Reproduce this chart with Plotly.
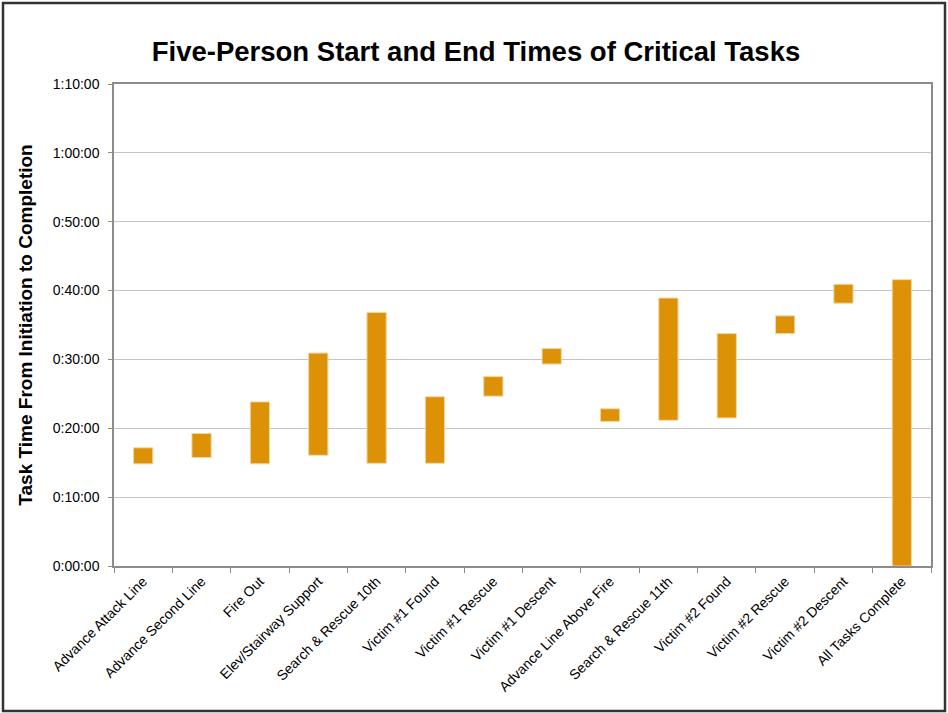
import plotly.graph_objects as go

tasks = ["Advance Attack Line", "Advance Second Line", "Fire Out", "Elev/Stairway Support",
         "Search & Rescue 10th", "Victim #1 Found", "Victim #1 Rescue", "Victim #1 Descent",
         "Advance Line Above Fire", "Search & Rescue 11th", "Victim #2 Found", "Victim #2 Rescue",
         "Victim #2 Descent", "All Tasks Complete"]
start_times = ["0:14:50", "0:15:45", "0:14:50", "0:16:05", "0:14:55", "0:14:55", "0:24:40",
               "0:29:20", "0:21:00", "0:21:10", "0:21:30", "0:33:45", "0:38:10", "0:00:00"]
end_times = ["0:17:10", "0:19:15", "0:23:50", "0:30:55", "0:36:50", "0:24:35", "0:27:30",
             "0:31:35", "0:22:50", "0:38:55", "0:33:45", "0:36:20", "0:40:55", "0:41:35"]
tick_minutes = [0, 10, 20, 30, 40, 50, 60, 70]
tick_labels = ["0:00:00", "0:10:00", "0:20:00", "0:30:00", "0:40:00", "0:50:00", "1:00:00", "1:10:00"]


def to_min(s):
    h, m, sec = (int(p) for p in s.split(":"))
    return h * 60 + m + sec / 60


starts = [to_min(s) for s in start_times]
ends = [to_min(e) for e in end_times]
durations = [e - s for s, e in zip(starts, ends)]

fig = go.Figure(go.Bar(
    x=tasks, y=durations, base=starts, width=0.33,
    marker=dict(color="#DC9106", line=dict(color="#F2D7A6", width=1)),
    hoverinfo="skip",
))

W, H = 948, 713
L, R, T, B = 114, 17, 84, 147
pw, ph = W - L - R, H - T - B

fig.update_layout(
    width=W, height=H,
    margin=dict(l=L, r=R, t=T, b=B),
    paper_bgcolor="white", plot_bgcolor="white",
    font=dict(family="Liberation Sans, Arial, sans-serif", color="black"),
    showlegend=False,
    title=dict(text="<b>Five-Person Start and End Times of Critical Tasks</b>",
               font=dict(size=27.5, color="black"), x=476 / W, xanchor="center",
               xref="container", yref="container", y=1 - 51 / H, yanchor="middle"),
    shapes=[dict(type="rect", xref="paper", yref="paper",
                 x0=(3 - L) / pw, x1=(945 - L) / pw,
                 y0=(H - B - 711) / ph, y1=(H - B - 3) / ph,
                 line=dict(color="#333333", width=2.5), layer="above")],
)

fig.update_xaxes(
    type="category", tickangle=-45, tickfont=dict(size=14, color="black"),
    showline=True, linecolor="#8C8C8C", linewidth=1.5, mirror=True,
    ticks="outside", tickson="boundaries", ticklen=5, tickcolor="#8C8C8C",
    showgrid=False,
)
fig.update_yaxes(
    range=[0, 70], tickvals=tick_minutes, ticktext=tick_labels,
    tickfont=dict(size=14, color="black"), ticklabelstandoff=6,
    showline=True, linecolor="#8C8C8C", linewidth=1.5, mirror=True,
    ticks="outside", ticklen=4, tickcolor="#8C8C8C",
    showgrid=True, gridcolor="#C4C4C4", gridwidth=1, zeroline=False,
    title=dict(text="<b>Task Time From Initiation to Completion</b>",
               font=dict(size=19, color="black"), standoff=15),
)

fig.write_html("out.html", config={"displayModeBar": False},
               post_script="document.body.style.margin='0';")
